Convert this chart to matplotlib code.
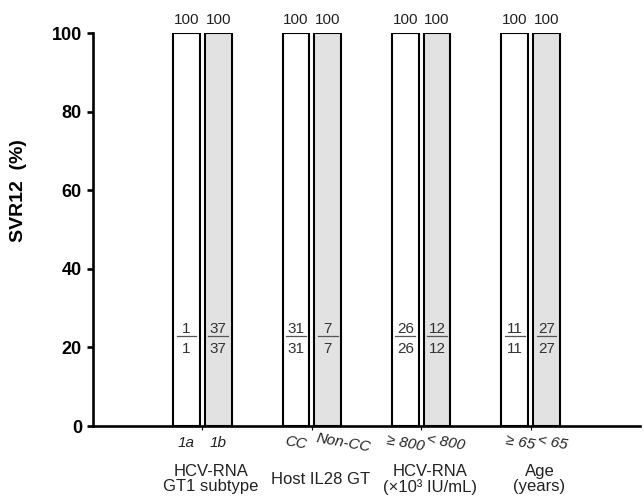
import numpy as np
import matplotlib.pyplot as plt

plt.rcParams['font.family'] = ['Liberation Sans', 'DejaVu Sans']

# data
groups = ["HCV-RNA\nGT1 subtype", "Host IL28 GT", "HCV-RNA\n(\u00d710\u00b3 IU/mL)", "Age\n(years)"]
left_labels = ["1a", "CC", "\u2265 800", "\u2265 65"]
right_labels = ["1b", "Non-CC", "< 800", "< 65"]
left_svr = [100, 100, 100, 100]
right_svr = [100, 100, 100, 100]
left_n = [(1, 1), (31, 31), (26, 26), (11, 11)]
right_n = [(37, 37), (7, 7), (12, 12), (27, 27)]

fig = plt.figure(figsize=(6.44, 4.98), dpi=100)
ax = fig.add_axes([93/644, 72/498, 547/644, 393/498])

x = np.arange(1, len(groups) + 1)
off = 0.145
w = 0.245
ax.bar(x - off, left_svr, w, color="white", edgecolor="black", linewidth=1.5)
ax.bar(x + off, right_svr, w, color="#e2e2e2", edgecolor="black", linewidth=1.5)

for xi, v in zip(x - off, left_svr):
    ax.text(xi, v + 1.4, str(v), ha="center", va="bottom", fontsize=11, color="#222222")
for xi, v in zip(x + off, right_svr):
    ax.text(xi, v + 1.4, str(v), ha="center", va="bottom", fontsize=11, color="#222222")

def frac(xc, n):
    a, b = n
    ax.text(xc, 23.7, str(a), ha="center", va="baseline", fontsize=11, color="#333333")
    ax.text(xc, 18.6, str(b), ha="center", va="baseline", fontsize=11, color="#333333")
    ax.plot([xc - 0.09, xc + 0.09], [22.9, 22.9], color="#555555", lw=0.9)

for xi, n in zip(x - off, left_n):
    frac(xi, n)
for xi, n in zip(x + off, right_n):
    frac(xi, n)

ax.set_xlim(0, 5)
ax.set_ylim(0, 100)
ax.set_yticks([0, 20, 40, 60, 80, 100])
ax.set_xticks(x)
ax.set_xticklabels([])
ax.spines["top"].set_visible(False)
ax.spines["right"].set_visible(False)
ax.spines["left"].set_linewidth(1.9)
ax.spines["bottom"].set_linewidth(1.9)
ax.tick_params(axis="y", direction="out", length=4.5, width=1.9, pad=3.5, labelsize=13)
ax.tick_params(axis="x", direction="out", length=3, width=0.8)
for t in ax.get_yticklabels():
    t.set_fontweight("bold")

ax.set_ylabel("SVR12  (%)", fontsize=14, fontweight="bold")
ax.yaxis.set_label_coords(-0.12, 0.6)

# sub labels
lx = [0, 0, 0, 0.05]
rx = [0, 0.14, 0.08, 0.06]
for i, xi in enumerate(x):
    rot = 0 if i == 0 else -10
    ax.text(xi - off + lx[i], -4.3, left_labels[i], ha="center", va="center", fontsize=11, style="italic",
            rotation=rot, rotation_mode="anchor", color="#222222", clip_on=False)
    ax.text(xi + off + rx[i], -4.3, right_labels[i], ha="center", va="center",
            fontsize=11, style="italic", rotation=rot, rotation_mode="anchor", color="#222222", clip_on=False)
    ax.text(xi + 0.08, -13.6, groups[i], ha="center", va="center",
            fontsize=12, linespacing=1.0, color="#222222", clip_on=False)

fig.savefig("out.png", dpi=100)
